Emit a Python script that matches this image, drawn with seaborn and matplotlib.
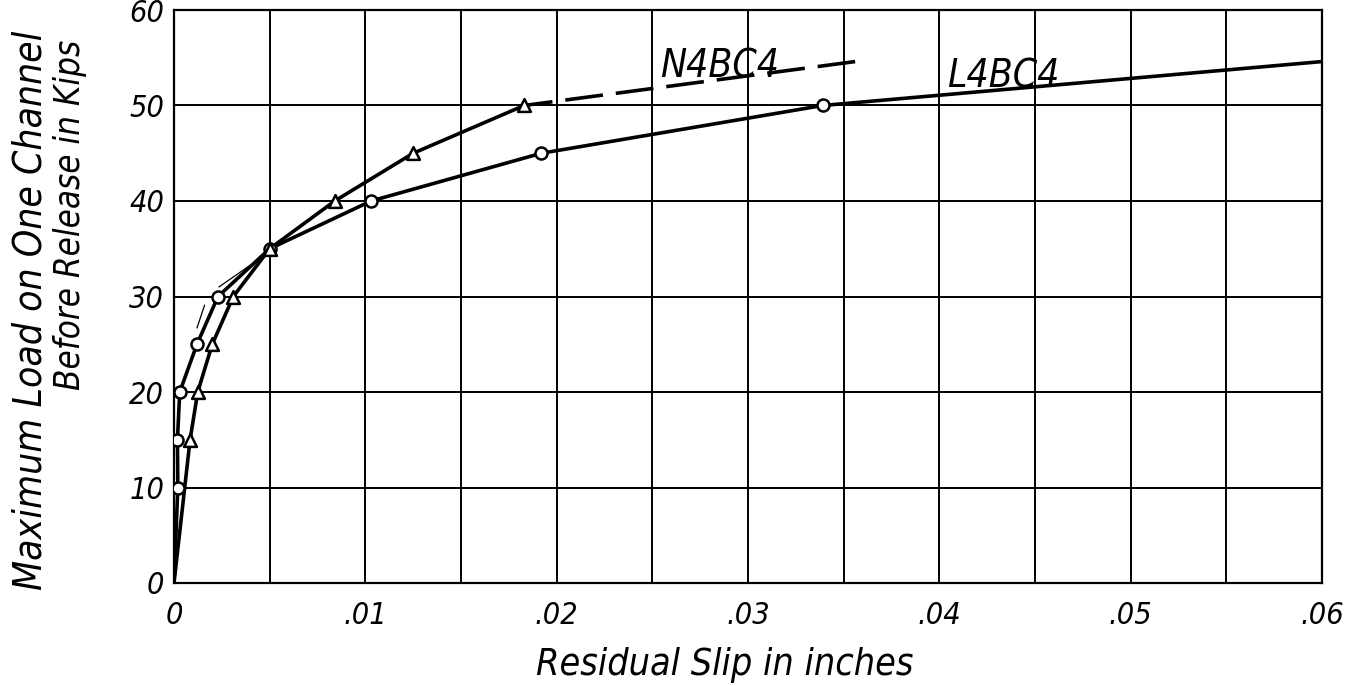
import numpy as np
import pandas as pd
import matplotlib
matplotlib.use("Agg")
import matplotlib.pyplot as plt
import seaborn as sns
from matplotlib.ticker import MultipleLocator, FixedLocator, FixedFormatter

# Specimen L4BC4 (circles): residual slip (in) vs max load (kips)
l4_slip = [0.0, 0.0002, 0.00018, 0.0003, 0.0012, 0.0023, 0.0050, 0.0103, 0.0192, 0.0339, 0.0600]
l4_load = [0.0, 10.0, 15.0, 20.0, 25.0, 30.0, 35.0, 40.0, 45.0, 50.0, 54.6]
l4_marked = [False, True, True, True, True, True, True, True, True, True, False]

# Specimen N4BC4 (triangles)
n4_slip = [0.0, 0.00084, 0.00124, 0.0020, 0.0031, 0.0050, 0.0084, 0.0125, 0.0183]
n4_load = [0.0, 15.0, 20.0, 25.0, 30.0, 35.0, 40.0, 45.0, 50.0]
n4_marked = [False, True, True, True, True, True, True, True, True]

# Extrapolated (dashed) continuation of N4BC4
n4_ext_slip = [0.0183, 0.0356]
n4_ext_load = [50.0, 54.6]

# Thin tangent construction strokes near the knee of the curves
tangent_a_slip = [0.0012, 0.0016]
tangent_a_load = [26.7, 29.1]
tangent_b_slip = [0.00235, 0.0040]
tangent_b_load = [31.0, 33.3]

x_ticks = [0.0, 0.01, 0.02, 0.03, 0.04, 0.05, 0.06]
x_tick_labels = ["0", ".01", ".02", ".03", ".04", ".05", ".06"]
y_ticks = [0, 10, 20, 30, 40, 50, 60]
y_tick_labels = ["0", "10", "20", "30", "40", "50", "60"]

sns.set_theme(style="white")
plt.rcParams["font.family"] = ["DejaVu Sans"]
plt.rcParams["font.stretch"] = "condensed"
plt.rcParams["font.style"] = "oblique"
plt.rcParams["text.color"] = "black"
plt.rcParams["xtick.color"] = "black"
plt.rcParams["ytick.color"] = "black"

fig = plt.figure(figsize=(13.57, 6.86), dpi=100)
ax = fig.add_axes([174 / 1357, 1 - 583 / 686, (1322 - 174) / 1357, (583 - 10) / 686])

l4 = pd.DataFrame({"slip": l4_slip, "load": l4_load, "marked": l4_marked})
n4 = pd.DataFrame({"slip": n4_slip, "load": n4_load, "marked": n4_marked})
n4_ext = pd.DataFrame({"slip": n4_ext_slip, "load": n4_ext_load})

LW = 2.6
sns.lineplot(data=l4, x="slip", y="load", sort=False, color="black", lw=LW, ax=ax, zorder=3)
sns.lineplot(data=n4, x="slip", y="load", sort=False, color="black", lw=LW, ax=ax, zorder=3)
sns.lineplot(data=n4_ext, x="slip", y="load", sort=False, color="black", lw=LW,
             ax=ax, zorder=3, linestyle=(2.6, (10.5, 3.6)))
for xs, ys in [(tangent_a_slip, tangent_a_load), (tangent_b_slip, tangent_b_load)]:
    sns.lineplot(x=xs, y=ys, sort=False, color="black", lw=0.9, ax=ax, zorder=3)

sns.scatterplot(data=l4[l4["marked"]], x="slip", y="load", marker="o", s=75,
                facecolor="white", edgecolor="black", linewidth=1.8, ax=ax, zorder=4)
sns.scatterplot(data=n4[n4["marked"]], x="slip", y="load", marker="^", s=85,
                facecolor="white", edgecolor="black", linewidth=1.8, ax=ax, zorder=4)

ax.set_xlim(0, 0.06)
ax.set_ylim(0, 60)
ax.xaxis.set_major_locator(FixedLocator(x_ticks))
ax.xaxis.set_major_formatter(FixedFormatter(x_tick_labels))
ax.xaxis.set_minor_locator(MultipleLocator(0.005))
ax.yaxis.set_major_locator(FixedLocator(y_ticks))
ax.yaxis.set_major_formatter(FixedFormatter(y_tick_labels))

ax.grid(True, which="both", color="black", lw=1.4)
ax.set_axisbelow(True)
for s in ax.spines.values():
    s.set_color("black")
    s.set_linewidth(1.6)
ax.tick_params(axis="both", which="both", length=0)
ax.tick_params(axis="x", pad=13, labelsize=22)
ax.tick_params(axis="y", pad=7, labelsize=22)
ax.set_xlabel("")
ax.set_ylabel("")

ax.text(0.0254, 52.9, "N4BC4", fontsize=28, ha="left", va="baseline", zorder=5)
ax.text(0.0404, 51.9, "L4BC4", fontsize=28, ha="left", va="baseline", zorder=5)

fig.text(725 / 1357, 1 - 665 / 686, "Residual Slip in inches", fontsize=27,
         ha="center", va="center")
fig.text(31 / 1357, 1 - 310 / 686, "Maximum Load on One Channel", fontsize=28,
         rotation=90, ha="center", va="center")
fig.text(70 / 1357, 1 - 215 / 686, "Before Release in Kips", fontsize=25,
         rotation=90, ha="center", va="center")

fig.savefig("out.png", dpi=100, facecolor="white")
